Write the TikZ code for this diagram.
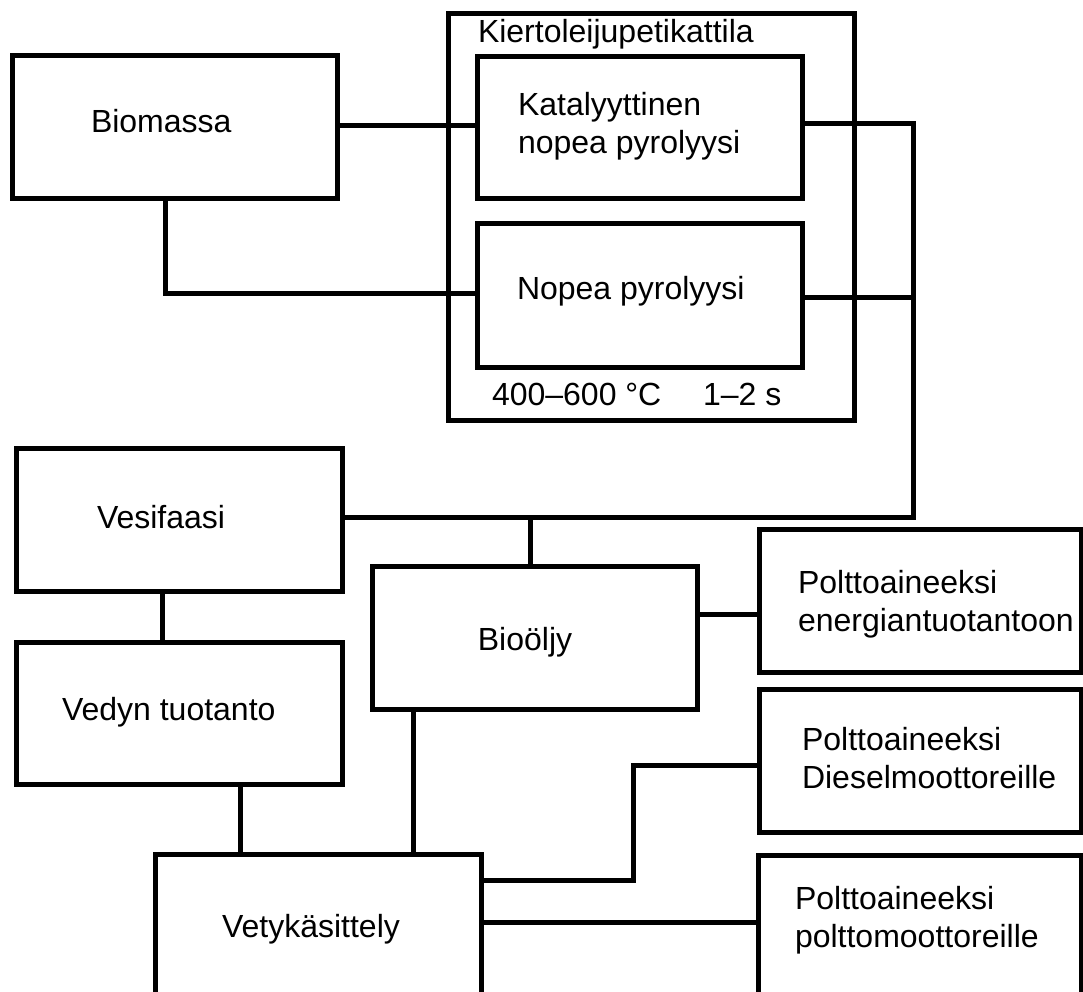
\documentclass[tikz,border=0pt]{standalone}
\usepackage{fontspec}
\setmainfont{Liberation Sans}
\begin{document}
\begin{tikzpicture}[x=1pt,y=-1pt,
  box/.style={draw=black,line width=5pt,rectangle,inner sep=0pt,outer sep=0pt},
  txt/.style={anchor=base west,inner sep=0pt,outer sep=0pt,align=left,font=\fontsize{32}{38}\selectfont},
  con/.style={draw=black,line width=5pt}]
\useasboundingbox (0,0) rectangle (1083,992);
% boxes
\node[box,minimum width=406pt,minimum height=406pt] (outer) at (651,217) {};
\node[box,minimum width=325pt,minimum height=143pt] (bio) at (174.5,127.5) {};
\node[box,minimum width=325pt,minimum height=142pt] (kat) at (639.5,128) {};
\node[box,minimum width=325pt,minimum height=143pt] (nop) at (639.5,295.5) {};
\node[box,minimum width=326pt,minimum height=143pt] (ves) at (179,519.5) {};
\node[box,minimum width=326pt,minimum height=142pt] (ved) at (179,713) {};
\node[box,minimum width=325pt,minimum height=143pt] (oil) at (534.5,637.5) {};
\node[box,minimum width=326pt,minimum height=146pt] (vety) at (318,927) {};
\node[box,minimum width=322pt,minimum height=143pt] (ene) at (920,600.5) {};
\node[box,minimum width=322pt,minimum height=143pt] (die) at (920,760.5) {};
\node[box,minimum width=323pt,minimum height=145pt] (pol) at (919.5,927.5) {};
% texts
\node[txt] (touter) at (478,43) {Kiertoleijupetikattila};
\node[txt] (tbio) at (91,133) {Biomassa};
\node[txt] (tkat) at (518,154) {Katalyyttinen\\nopea pyrolyysi};
\node[txt] (tnop) at (517,299) {Nopea pyrolyysi};
\node[txt] (ttemp) at (492,405) {400–600 °C};
\node[txt] (ttime) at (703,405) {1–2 s};
\node[txt] (tves) at (97,528) {Vesifaasi};
\node[txt] (tved) at (62,720) {Vedyn tuotanto};
\node[txt,anchor=base] (toil) at (525,650) {Bioöljy};
\node[txt] (tvety) at (222,937) {Vetykäsittely};
\node[txt] (tene) at (798,631) {Polttoaineeksi\\energiantuotantoon};
\node[txt] (tdie) at (802,788) {Polttoaineeksi\\Dieselmoottoreille};
\node[txt] (tpol) at (795,947) {Polttoaineeksi\\polttomoottoreille};
% junction coordinates
\coordinate (b1) at (165,293);
\coordinate (j1) at (913,124);
\coordinate (j2) at (913,297);
\coordinate (j3) at (913,517);
\coordinate (j4) at (530,517);
\coordinate (v1) at (162,600);
\coordinate (v2) at (240,800);
\coordinate (o1) at (413,800);
\coordinate (e1) at (700,614);
\coordinate (d1) at (633,880);
\coordinate (d2) at (633,765);
\coordinate (p1) at (500,922);
% connectors
\draw[con] (bio.east |- 0,126) -- (kat.west |- 0,126);
\draw[con] (bio.south -| b1) -- (b1) -- (nop.west |- b1);
\draw[con] (kat.east |- j1) -- (j1) -- (j3) -- (ves.east |- j3);
\draw[con] (nop.east |- j2) -- (j2);
\draw[con] (j4) -- (oil.north -| j4);
\draw[con] (ves.south -| v1) -- (ved.north -| v1);
\draw[con] (ved.south -| v2) -- (vety.north -| v2);
\draw[con] (oil.south -| o1) -- (vety.north -| o1);
\draw[con] (oil.east |- e1) -- (ene.west |- e1);
\draw[con] (vety.east |- d1) -- (d1) -- (d2) -- (die.west |- d2);
\draw[con] (vety.east |- p1) -- (pol.west |- p1);
\end{tikzpicture}
\end{document}
